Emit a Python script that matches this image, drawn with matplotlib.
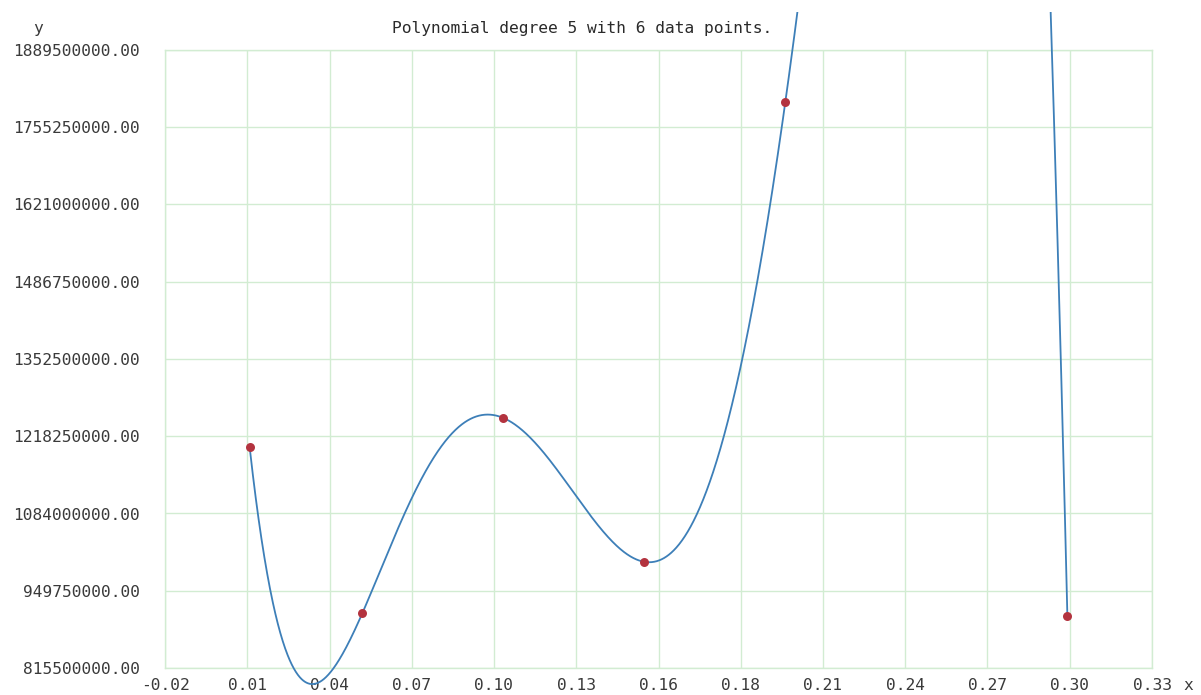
import numpy as np
import matplotlib
matplotlib.use("Agg")
import matplotlib.pyplot as plt
from matplotlib.transforms import Bbox, TransformedBbox

# Sample points that the interpolating polynomial passes through
x_points = [0.01, 0.05, 0.10, 0.15, 0.20, 0.30]
y_points = [1200e6, 911e6, 1250e6, 1000e6, 1800e6, 905e6]
degree = 5

# Axis ranges and tick labels
x_min, x_max = -0.02, 0.33
y_min, y_max = 815500000.0, 1889500000.0
x_tick_labels = ["-0.02", "0.01", "0.04", "0.07", "0.10", "0.13", "0.16",
                 "0.18", "0.21", "0.24", "0.27", "0.30", "0.33"]
y_tick_count = 9

title_text = "Polynomial degree 5 with 6 data points."

W, H = 1201, 695
fig = plt.figure(figsize=(W / 100, H / 100), dpi=100)
left, right, top, bottom = 165, 1152, 50, 668
ax = fig.add_axes([left / W, 1 - bottom / H, (right - left) / W, (bottom - top) / H])

mono = "DejaVu Sans Mono"
fs = 11.7
txt_color = "#3a3a3a"
grid_color = "#d2ecd2"

# Fitted curve
coeffs = np.polyfit(x_points, y_points, degree)
xs = np.linspace(min(x_points), max(x_points), 2000)
ys = np.polyval(coeffs, xs)
line, = ax.plot(xs, ys, color="#3d7fb8", lw=1.3, zorder=3)
clip = TransformedBbox(Bbox([[left / W, 0], [right / W, 1 - 12 / H]]), fig.transFigure)
line.set_clip_box(clip)

ax.scatter(x_points, y_points, s=42, color="#b3333f", zorder=4, linewidths=0,
           clip_on=False)

ax.set_xlim(x_min, x_max)
ax.set_ylim(y_min, y_max)

xt = np.linspace(x_min, x_max, len(x_tick_labels))
ax.set_xticks(xt)
ax.set_xticklabels(x_tick_labels, family=mono, fontsize=fs, color=txt_color)
yt = np.linspace(y_min, y_max, y_tick_count)
ax.set_yticks(yt)
ax.set_yticklabels(["%.2f" % v for v in yt], family=mono, fontsize=fs, color=txt_color)
ax.tick_params(axis="x", length=0, pad=7)
ax.tick_params(axis="y", length=0, pad=18)

ax.grid(True, color=grid_color, lw=1.0)
ax.set_axisbelow(True)
for s in ("top", "right", "left", "bottom"):
    ax.spines[s].set_color(grid_color)
    ax.spines[s].set_linewidth(1.0)

fig.text(38 / W, 1 - 29 / H, "y", family=mono, fontsize=fs, color=txt_color,
         ha="center", va="center")
fig.text(1188 / W, 1 - 685 / H, "x", family=mono, fontsize=fs, color=txt_color,
         ha="center", va="center")
fig.text(392 / W, 1 - 28 / H, title_text, family=mono, fontsize=fs, color="#2a2a2a",
         ha="left", va="center")

fig.savefig("out.png", dpi=100)
